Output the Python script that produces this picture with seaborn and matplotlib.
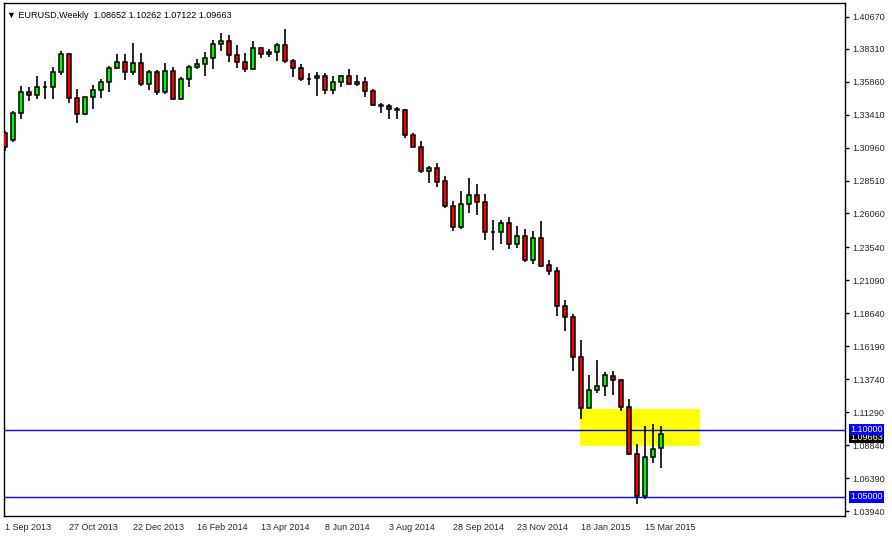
import matplotlib
matplotlib.use("Agg")
import matplotlib.pyplot as plt
import matplotlib.transforms as mtransforms
import seaborn as sns
import numpy as np

opens = [1.3205,1.3152,1.3353,1.3509,1.3487,1.3545,1.3547,1.3658,1.3792,1.3465,
         1.3346,1.3472,1.3524,1.3584,1.3688,1.3732,1.3658,1.3725,1.3569,1.3658,
         1.3509,1.3666,1.3457,1.3606,1.3695,1.3718,1.3762,1.3866,1.3889,1.3784,
         1.3732,1.3680,1.3837,1.3792,1.3807,1.3859,1.3740,1.3688,1.3606,1.3610,
         1.3628,1.3524,1.3584,1.3628,1.3569,1.3584,1.3517,1.3413,1.3405,1.3383,
         1.3375,1.3190,1.3100,1.2922,1.2944,1.2848,1.2662,1.2506,1.2677,1.2744,
         1.2692,1.2469,1.2465,1.2535,1.2379,1.2439,1.2260,1.2424,1.2223,1.2179,
         1.1918,1.1836,1.1539,1.1160,1.1294,1.1324,1.1398,1.1368,1.1167,1.0818,
         1.0506,1.0796,1.08652]
highs = [1.3220,1.3368,1.3554,1.3547,1.3628,1.3591,1.3695,1.3814,1.3799,1.3532,
         1.3475,1.3561,1.3606,1.3703,1.3792,1.3792,1.3874,1.3799,1.3673,1.3673,
         1.3725,1.3695,1.3621,1.3710,1.3755,1.3807,1.3896,1.3948,1.3933,1.3859,
         1.3799,1.3889,1.3844,1.3829,1.3874,1.3978,1.3755,1.3718,1.3651,1.3658,
         1.3651,1.3628,1.3636,1.3680,1.3636,1.3621,1.3532,1.3428,1.3420,1.3398,
         1.3383,1.3205,1.3145,1.2959,1.2981,1.2885,1.2699,1.2773,1.2870,1.2825,
         1.2751,1.2558,1.2558,1.2580,1.2513,1.2491,1.2476,1.2550,1.2260,1.2208,
         1.1963,1.1859,1.1666,1.1405,1.1517,1.1428,1.1435,1.1375,1.1227,1.0892,
         1.1026,1.1041,1.10262]
lows = [1.3070,1.3138,1.3309,1.3443,1.3457,1.3457,1.3457,1.3636,1.3428,1.3279,
        1.3338,1.3383,1.3465,1.3509,1.3680,1.3599,1.3636,1.3554,1.3524,1.3487,
        1.3494,1.3450,1.3450,1.3547,1.3680,1.3628,1.3680,1.3814,1.3732,1.3688,
        1.3658,1.3673,1.3762,1.3770,1.3740,1.3725,1.3621,1.3591,1.3561,1.3480,
        1.3494,1.3494,1.3547,1.3561,1.3554,1.3472,1.3405,1.3353,1.3309,1.3309,
        1.3167,1.3100,1.2907,1.2833,1.2803,1.2647,1.2476,1.2491,1.2610,1.2595,
        1.2409,1.2335,1.2379,1.2342,1.2350,1.2245,1.2231,1.2208,1.2149,1.1844,
        1.1732,1.1435,1.1078,1.1160,1.1271,1.1249,1.1256,1.1138,1.0810,1.0446,
        1.0483,1.0751,1.07122]
closes = [1.3100,1.3353,1.3509,1.3487,1.3547,1.3550,1.3658,1.3792,1.3465,1.3346,
          1.3472,1.3524,1.3584,1.3688,1.3732,1.3658,1.3725,1.3569,1.3658,1.3509,
          1.3666,1.3457,1.3606,1.3695,1.3718,1.3762,1.3866,1.3889,1.3784,1.3732,
          1.3680,1.3837,1.3792,1.3807,1.3859,1.3740,1.3688,1.3606,1.3604,1.3628,
          1.3524,1.3584,1.3628,1.3569,1.3584,1.3517,1.3413,1.3405,1.3383,1.3375,
          1.3190,1.3100,1.2922,1.2944,1.2840,1.2662,1.2506,1.2677,1.2744,1.2692,
          1.2469,1.2465,1.2535,1.2379,1.2439,1.2260,1.2424,1.2216,1.2179,1.1918,
          1.1836,1.1539,1.1160,1.1294,1.1324,1.1405,1.1368,1.1167,1.0818,1.0506,
          1.0796,1.0855,1.09663]

date_labels = ["1 Sep 2013","27 Oct 2013","22 Dec 2013","16 Feb 2014","13 Apr 2014",
               "8 Jun 2014","3 Aug 2014","28 Sep 2014","23 Nov 2014","18 Jan 2015","15 Mar 2015"]
date_idx = [0,8,16,24,32,40,48,56,64,72,80]
price_ticks = [1.40670,1.38310,1.35860,1.33410,1.30960,1.28510,1.26060,1.23540,
               1.21090,1.18640,1.16190,1.13740,1.11290,1.08840,1.06390,1.03940]
levels = [1.10000, 1.05000]
zone = (1.0877, 1.1153, 72, 87)

sns.set_style("white")
plt.rcParams['font.family'] = ['Liberation Sans', 'DejaVu Sans']
FS = 6.5

fig = plt.figure(figsize=(8.92, 5.36), dpi=100)
fig.patch.set_facecolor("white")
ax = fig.add_axes([4/892, 20/536, 841/892, 513/536])

o = np.array(opens); h = np.array(highs); l = np.array(lows); c = np.array(closes)
x = np.arange(len(o))
colors = np.where(c >= o, "#00FF00", "#FF0000")

ax.add_patch(plt.Rectangle((zone[2]-0.1, zone[0]), zone[3]-zone[2], zone[1]-zone[0],
                           facecolor="#FFFF00", edgecolor="none", zorder=1))
for lv in levels:
    ax.axhline(lv, color="#0000FF", lw=1, zorder=2)

ax.vlines(x, l, h, color="black", lw=1.2, zorder=3)
ax.bar(x, np.maximum(np.abs(c - o), 1e-5), bottom=np.minimum(o, c), width=0.62,
       color=colors, edgecolor="black", linewidth=1.1, zorder=4)

ax.set_xlim(-0.125, 105)
ax.set_ylim(1.0357, 1.4171)
ax.yaxis.tick_right()
ax.set_yticks(price_ticks)
ax.set_yticklabels([f"{v:.5f}" for v in price_ticks], fontsize=FS)
ax.set_xticks(date_idx)
ax.set_xticklabels(date_labels, fontsize=FS, ha="left")
ax.tick_params(axis="both", direction="out", length=3, width=1, color="black", pad=2)
ax.tick_params(axis="x", length=3, pad=2)
for sp in ax.spines.values():
    sp.set_color("black"); sp.set_linewidth(1)

trans = mtransforms.blended_transform_factory(ax.transAxes, ax.transData)
ax.text(1.006, 1.09663 - 0.0022, "1.09663", transform=trans, fontsize=FS, color="white",
        va="center", ha="left", bbox=dict(boxstyle="square,pad=0.15", fc="black", ec="none"), zorder=5)
for lv in levels:
    ax.text(1.006, lv, f"{lv:.5f}", transform=trans, fontsize=FS, color="white",
            va="center", ha="left", bbox=dict(boxstyle="square,pad=0.15", fc="#0000FF", ec="none"), zorder=6)

ax.text(0.004, 0.985, "\u25bc EURUSD,Weekly  1.08652 1.10262 1.07122 1.09663",
        transform=ax.transAxes, fontsize=FS, va="top", ha="left", color="black")

fig.savefig("out.png", dpi=100)
